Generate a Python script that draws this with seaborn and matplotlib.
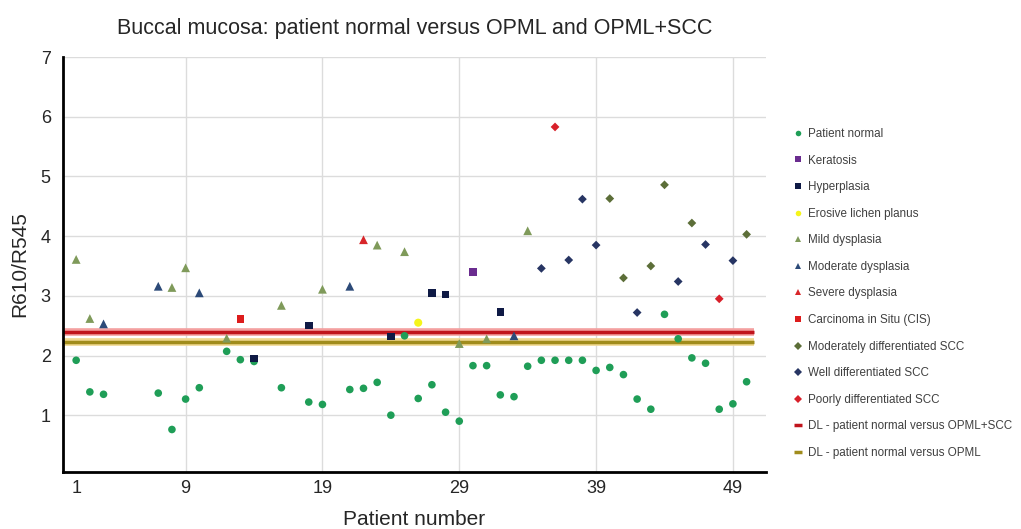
import numpy as np
import pandas as pd
import matplotlib
matplotlib.use("Agg")
import matplotlib.pyplot as plt
import seaborn as sns

# readings of the normal site, one per patient
normal_patient = [1, 2, 3, 7, 8, 9, 10, 12, 13, 14, 16, 18, 19, 21, 22, 23, 24, 25,
                  26, 27, 28, 29, 30, 31, 32, 33, 34, 35, 36, 37, 38, 39, 40, 41, 42,
                  43, 44, 45, 46, 47, 48, 49, 50]
normal_value = [1.92, 1.39, 1.35, 1.37, 0.76, 1.27, 1.46, 2.07, 1.93, 1.90, 1.46, 1.22,
                1.18, 1.43, 1.45, 1.55, 1.00, 2.33, 1.28, 1.51, 1.05, 0.90, 1.83, 1.83,
                1.34, 1.31, 1.82, 1.92, 1.92, 1.92, 1.92, 1.75, 1.80, 1.68, 1.27, 1.10,
                2.69, 2.28, 1.96, 1.87, 1.10, 1.19, 1.56]

# readings of the lesion site
lesion_patient = normal_patient
lesion_value = [3.61, 2.62, 2.53, 3.16, 3.14, 3.47, 3.05, 2.29, 2.61, 1.95, 2.84, 2.50,
                3.11, 3.16, 3.94, 3.85, 2.32, 3.74, 2.55, 3.05, 3.02, 2.20, 3.40, 2.28,
                2.73, 2.33, 4.09, 3.46, 5.83, 3.60, 4.62, 3.85, 4.63, 3.30, 2.72, 3.50,
                4.86, 3.24, 4.22, 3.86, 2.95, 3.59, 4.03]
lesion_type = ["Mild dysplasia", "Mild dysplasia", "Moderate dysplasia", "Moderate dysplasia",
               "Mild dysplasia", "Mild dysplasia", "Moderate dysplasia", "Mild dysplasia",
               "Carcinoma in Situ (CIS)", "Hyperplasia", "Mild dysplasia", "Hyperplasia",
               "Mild dysplasia", "Moderate dysplasia", "Severe dysplasia", "Mild dysplasia",
               "Hyperplasia", "Mild dysplasia", "Erosive lichen planus", "Hyperplasia",
               "Hyperplasia", "Mild dysplasia", "Keratosis", "Mild dysplasia", "Hyperplasia",
               "Moderate dysplasia", "Mild dysplasia", "Well differentiated SCC",
               "Poorly differentiated SCC", "Well differentiated SCC", "Well differentiated SCC",
               "Well differentiated SCC", "Moderately differentiated SCC",
               "Moderately differentiated SCC", "Well differentiated SCC",
               "Moderately differentiated SCC", "Moderately differentiated SCC",
               "Well differentiated SCC", "Moderately differentiated SCC",
               "Well differentiated SCC", "Poorly differentiated SCC", "Well differentiated SCC",
               "Moderately differentiated SCC"]

# discrimination lines
dl_opml_scc = 2.40
dl_opml = 2.22

categories = ["Patient normal", "Keratosis", "Hyperplasia", "Erosive lichen planus",
              "Mild dysplasia", "Moderate dysplasia", "Severe dysplasia",
              "Carcinoma in Situ (CIS)", "Moderately differentiated SCC",
              "Well differentiated SCC", "Poorly differentiated SCC"]
palette = {"Patient normal": "#1f9e57", "Keratosis": "#6a2c8f", "Hyperplasia": "#0f1a45",
           "Erosive lichen planus": "#f5f51a", "Mild dysplasia": "#7f9a5a",
           "Moderate dysplasia": "#2c4a78", "Severe dysplasia": "#d8262a",
           "Carcinoma in Situ (CIS)": "#dd1c1c", "Moderately differentiated SCC": "#5c6e38",
           "Well differentiated SCC": "#273563", "Poorly differentiated SCC": "#d8202a"}
markers = {"Patient normal": "o", "Keratosis": "s", "Hyperplasia": "s",
           "Erosive lichen planus": "o", "Mild dysplasia": "^", "Moderate dysplasia": "^",
           "Severe dysplasia": "^", "Carcinoma in Situ (CIS)": "s",
           "Moderately differentiated SCC": "D", "Well differentiated SCC": "D",
           "Poorly differentiated SCC": "D"}
# marker areas so that all shapes look about the same size
sizes = {"Patient normal": 30, "Keratosis": 30, "Hyperplasia": 30,
         "Erosive lichen planus": 34, "Mild dysplasia": 40, "Moderate dysplasia": 40,
         "Severe dysplasia": 40, "Carcinoma in Situ (CIS)": 30,
         "Moderately differentiated SCC": 20, "Well differentiated SCC": 20,
         "Poorly differentiated SCC": 20}

df = pd.concat([
    pd.DataFrame({"patient": normal_patient, "value": normal_value,
                  "type": "Patient normal"}),
    pd.DataFrame({"patient": lesion_patient, "value": lesion_value, "type": lesion_type}),
], ignore_index=True)

sns.set_style("white")
plt.rcParams["font.family"] = ["Liberation Sans", "DejaVu Sans"]

fig = plt.figure(figsize=(10.21, 5.29), dpi=100)
ax = fig.add_axes([0.062, 0.108, 0.688, 0.784])

ax.set_xlim(0.06, 51.4)
ax.set_ylim(0.05, 7)
ax.set_yticks(range(1, 8))
ax.grid(True, color="#dcdcdc", linewidth=1)
ax.set_axisbelow(True)

sns.scatterplot(data=df, x="patient", y="value", hue="type", style="type", size="type",
                hue_order=categories, style_order=categories, size_order=categories,
                palette=palette, markers=markers, sizes=sizes, linewidth=0, ax=ax,
                zorder=3)

ax.hlines(dl_opml_scc, 0.06, 50.55, color="#f4a0a0", linewidth=5.5, zorder=2)
ax.hlines(dl_opml_scc, 0.06, 50.55, color="#c0141c", linewidth=2.5, zorder=2,
          label="DL - patient normal versus OPML+SCC")
ax.hlines(dl_opml, 0.06, 50.55, color="#f0d890", linewidth=5.5, zorder=2)
ax.hlines(dl_opml, 0.06, 50.55, color="#a08c1c", linewidth=2.5, zorder=2,
          label="DL - patient normal versus OPML")

# x tick "1" sits at the axis corner
ax.set_xticks([1, 9, 19, 29, 39, 49])
ax.xaxis.get_gridlines()[0].set_visible(False)

for side in ["top", "right"]:
    ax.spines[side].set_visible(False)
ax.spines["left"].set_linewidth(2)
ax.spines["bottom"].set_linewidth(2)
ax.spines["left"].set_color("black")
ax.spines["bottom"].set_color("black")
ax.tick_params(axis="both", labelsize=13, length=0)
ax.tick_params(axis="y", pad=9)
ax.tick_params(axis="x", pad=6)

ax.set_title("Buccal mucosa: patient normal versus OPML and OPML+SCC", fontsize=15.5, pad=17)
ax.set_xlabel("Patient number", fontsize=15, labelpad=9)
ax.set_ylabel("R610/R545", fontsize=15, labelpad=8)

handles, labels = ax.get_legend_handles_labels()
for h in handles:
    if hasattr(h, "set_markersize"):
        h.set_markersize(4)
leg = ax.legend(handles, labels, loc="upper left", bbox_to_anchor=(0.767, 0.778),
                bbox_transform=fig.transFigure, frameon=False, fontsize=8.4,
                labelspacing=1.25, handlelength=0.7, handletextpad=0.5)
for t in leg.get_texts():
    t.set_color("#404040")

fig.savefig("out.png", dpi=100)
